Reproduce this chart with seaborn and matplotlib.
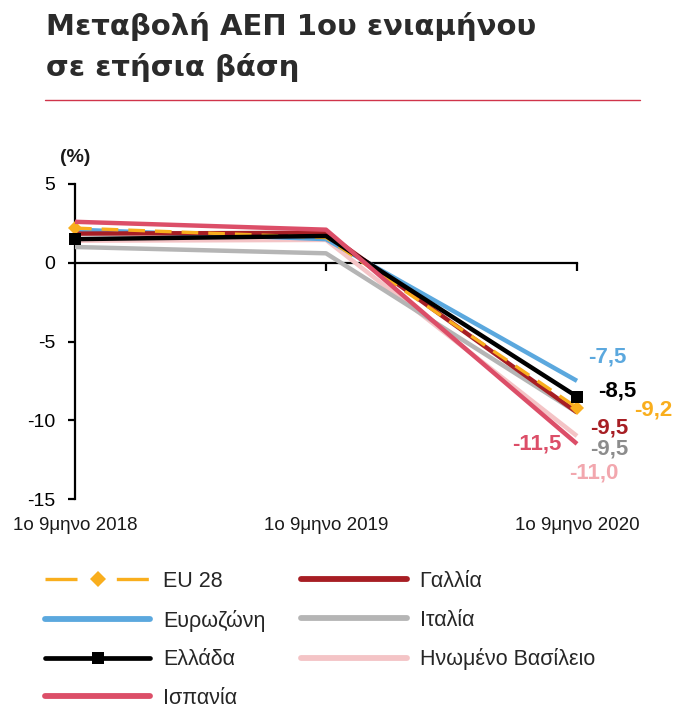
import matplotlib
matplotlib.use("Agg")
import matplotlib.pyplot as plt
from matplotlib.lines import Line2D
from matplotlib.transforms import blended_transform_factory
import numpy as np
import pandas as pd
import seaborn as sns

# ---------------------------------------------------------------------------
# Data
# ---------------------------------------------------------------------------
periods = ["1o 9μηνο 2018", "1o 9μηνο 2019", "1o 9μηνο 2020"]

eu28 = [2.2, 1.6, -9.2]
eurozone = [2.1, 1.5, -7.5]
greece = [1.5, 1.7, -8.5]
spain = [2.6, 2.1, -11.5]
france = [1.85, 1.9, -9.5]
italy = [1.0, 0.6, -9.5]
uk = [1.4, 1.45, -11.0]

series_names = ["EU 28", "Ευρωζώνη", "Ελλάδα", "Ισπανία",
                "Γαλλία", "Ιταλία", "Ηνωμένο Βασίλειο"]
series_values = [eu28, eurozone, greece, spain, france, italy, uk]
value_labels = ["-9,2", "-7,5", "-8,5", "-11,5", "-9,5", "-9,5", "-11,0"]

# ---------------------------------------------------------------------------
# Style
# ---------------------------------------------------------------------------
sns.set_theme(style="white")
plt.rcParams["font.family"] = ["Liberation Sans", "DejaVu Sans"]

COLORS = {
    "EU 28": "#F9AE1D",
    "Ευρωζώνη": "#5BA8DE",
    "Ελλάδα": "#000000",
    "Ισπανία": "#DC4E68",
    "Γαλλία": "#A71E24",
    "Ιταλία": "#B5B5B5",
    "Ηνωμένο Βασίλειο": "#F4C4C6",
}

# offsets (points) of the end-value labels from the 2020 point
LABEL_OFFSETS = {
    "EU 28": (55, -2),
    "Ευρωζώνη": (22, 17),
    "Ελλάδα": (29, 4),
    "Ισπανία": (-29, 0),
    "Γαλλία": (23, -11),
    "Ιταλία": (23, -26.5),
    "Ηνωμένο Βασίλειο": (12, -27),
}

LABEL_COLORS = dict(COLORS)
LABEL_COLORS["Ιταλία"] = "#8C8C8C"
LABEL_COLORS["Ηνωμένο Βασίλειο"] = "#F2A7AE"

df = pd.DataFrame(
    [(name, i, v) for name, vals in zip(series_names, series_values)
     for i, v in enumerate(vals)],
    columns=["series", "x", "value"],
)

fig = plt.figure(figsize=(6.73, 7.09), dpi=100)
ax = fig.add_axes([75 / 673, 1 - 499 / 709, (577 - 75) / 673, 315 / 709])

draw_order = ["Ηνωμένο Βασίλειο", "Ιταλία", "Ευρωζώνη", "Γαλλία",
              "EU 28", "Ελλάδα", "Ισπανία"]
for z, name in enumerate(draw_order):
    sub = df[df["series"] == name]
    kw = dict(color=COLORS[name], linewidth=3.2, solid_capstyle="butt")
    if name == "EU 28":
        kw.update(linewidth=2.4, dashes=(5, 3), marker="D", markersize=7,
                  markevery=[0, 2], markeredgewidth=0)
    elif name == "Ελλάδα":
        kw.update(marker="s", markersize=8, markevery=[0, 2],
                  markeredgewidth=0)
    sns.lineplot(data=sub, x="x", y="value", ax=ax, legend=False,
                 zorder=3 + z, clip_on=False, **kw)

# end-value labels
for name, vals, txt in zip(series_names, series_values, value_labels):
    ax.annotate(txt, xy=(2, vals[-1]), xytext=LABEL_OFFSETS[name],
                textcoords="offset points", ha="center", va="center",
                fontsize=16, fontweight="bold", color=LABEL_COLORS[name])

ax.set_xlim(0, 2)
ax.set_ylim(-15, 5)
ax.set_yticks([5, 0, -5, -10, -15])
ax.set_yticklabels(["5", "0", "-5", "-10", "-15"])
ax.set_xticks([1, 2])
ax.set_xticklabels([])
ax.set_xlabel("")
ax.set_ylabel("")

for side in ["top", "right"]:
    ax.spines[side].set_visible(False)
ax.spines["bottom"].set_position(("data", 0))
for side in ["left", "bottom"]:
    ax.spines[side].set_color("black")
    ax.spines[side].set_linewidth(1.6)
ax.spines["bottom"].set_zorder(2)
ax.tick_params(axis="y", direction="out", length=5, width=1.6,
               labelsize=14, pad=9, colors="black", left=True)
ax.tick_params(axis="x", direction="out", length=6, width=1.6,
               colors="black", bottom=True)
ax.grid(False)

# category labels below the plot area
trans = blended_transform_factory(ax.transData, ax.transAxes)
for i, lab in enumerate(periods):
    ax.text(i, -0.083, lab, transform=trans, ha="center", va="center",
            fontsize=13.5, color="#1a1a1a")

fig.text(75 / 673, 1 - 157 / 709, "(%)", ha="center", va="center",
         fontsize=14, fontweight="bold", color="#1a1a1a")

# title and rule
title_font = dict(ha="left", va="baseline", fontsize=21, fontweight="bold",
                  color="#2b2b2b", family=["DejaVu Sans"])
fig.text(46 / 673, 1 - 35 / 709, "Μεταβολή ΑΕΠ 1ου ενιαμήνου", **title_font)
fig.text(46 / 673, 1 - 76 / 709, "σε ετήσια βάση", **title_font)
fig.add_artist(Line2D([45 / 673, 640 / 673], [1 - 100 / 709, 1 - 100 / 709],
                      transform=fig.transFigure, color="#D0344A",
                      linewidth=1.0))

# legend
handles = []
for name in series_names:
    if name == "EU 28":
        h = Line2D([], [], color=COLORS[name], linewidth=2.4,
                   dashes=(9.6, 11.8), marker="D", markersize=8,
                   markeredgewidth=0)
    elif name == "Ελλάδα":
        h = Line2D([], [], color=COLORS[name], linewidth=3.4,
                   marker="s", markersize=9, markeredgewidth=0,
                   solid_capstyle="round")
    else:
        h = Line2D([], [], color=COLORS[name], linewidth=4.2,
                   solid_capstyle="round")
    handles.append(h)

fig.legend(handles, series_names, ncol=2, loc="upper left",
           bbox_to_anchor=(45 / 673, 1 - 571 / 709), frameon=False,
           fontsize=15.5, handlelength=4.9, handletextpad=0.6,
           columnspacing=1.65, labelspacing=0.82, numpoints=1,
           borderaxespad=0, borderpad=0)

fig.savefig("out.png", dpi=100, facecolor="white")
